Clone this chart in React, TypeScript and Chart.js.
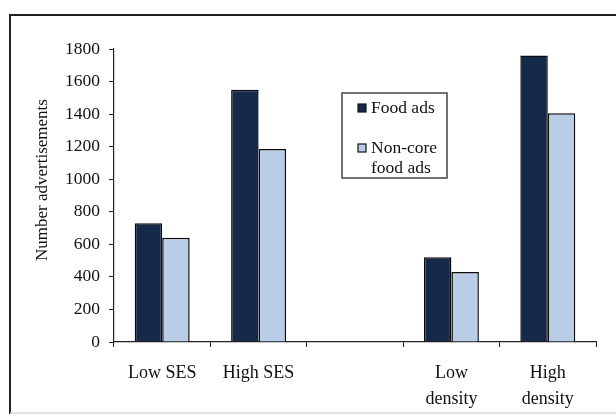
import React, { useEffect, useRef } from "react";
import { Chart, registerables } from "chart.js";

Chart.register(...registerables);

const categories: string[][] = [["Low SES"], ["High SES"], [""], ["Low", "density"], ["High", "density"]];
const foodAds: (number | null)[] = [730, 1550, null, 520, 1760];
const nonCoreFoodAds: (number | null)[] = [640, 1185, null, 430, 1405];
const seriesNames = ["Food ads", "Non-core food ads"];
const legendLines: string[][] = [["Food ads"], ["Non-core", "food ads"]];
const yTicks = [0, 200, 400, 600, 800, 1000, 1200, 1400, 1600, 1800];
const yTitle = "Number advertisements";

const FONT = '"Liberation Serif", "Times New Roman", serif';
const DARK = "#15294b";
const LIGHT = "#b9cde7";

const framePlugin = {
  id: "frame",
  beforeDraw(chart: any) {
    const ctx = chart.ctx;
    ctx.save();
    ctx.fillStyle = "#ffffff";
    ctx.fillRect(0, 0, chart.width, chart.height);
    ctx.strokeStyle = "#222";
    ctx.lineWidth = 2;
    ctx.beginPath();
    ctx.moveTo(10, 414);
    ctx.lineTo(10, 15);
    ctx.lineTo(chart.width, 15);
    ctx.stroke();
    ctx.strokeStyle = "#d8d8d8";
    ctx.lineWidth = 1.5;
    ctx.beginPath();
    ctx.moveTo(10, 413);
    ctx.lineTo(chart.width, 413);
    ctx.stroke();
    ctx.restore();
  },
  afterDraw(chart: any) {
    const ctx = chart.ctx;
    const area = chart.chartArea;
    ctx.save();
    // y-axis title
    ctx.translate(43, 180);
    ctx.rotate(-Math.PI / 2);
    ctx.fillStyle = "#111";
    ctx.font = `17px ${FONT}`;
    ctx.textAlign = "center";
    ctx.textBaseline = "middle";
    ctx.fillText(yTitle, 0, 0);
    ctx.restore();

    // legend box
    ctx.save();
    const lx = area.left + 228;
    const ly = 93;
    const lw = 105;
    const lh = 85;
    ctx.strokeStyle = "#444";
    ctx.lineWidth = 1.5;
    ctx.strokeRect(lx, ly, lw, lh);
    ctx.font = `17.5px ${FONT}`;
    ctx.textBaseline = "middle";
    ctx.textAlign = "left";
    const rowY = [108, 148];
    chart.data.datasets.forEach((ds: any, i: number) => {
      const y = rowY[i];
      ctx.fillStyle = ds.backgroundColor;
      ctx.fillRect(lx + 16, y - 4, 8, 8);
      ctx.strokeStyle = "#111";
      ctx.lineWidth = 1.2;
      ctx.strokeRect(lx + 16, y - 4, 8, 8);
      ctx.fillStyle = "#111";
      legendLines[i].forEach((t, j) => ctx.fillText(t, lx + 29, y + j * 20));
    });
    ctx.restore();
  },
};

export default function App() {
  const ref = useRef<HTMLCanvasElement | null>(null);
  useEffect(() => {
    if (!ref.current) return;
    const chart = new Chart(ref.current, {
      type: "bar",
      data: {
        labels: categories,
        datasets: [
          {
            label: seriesNames[0],
            data: foodAds,
            backgroundColor: DARK,
            borderColor: "#0a0a0a",
            borderWidth: 1.5,
            categoryPercentage: 0.57,
            barPercentage: 1,
          },
          {
            label: seriesNames[1],
            data: nonCoreFoodAds,
            backgroundColor: LIGHT,
            borderColor: "#0a0a0a",
            borderWidth: 1.5,
            categoryPercentage: 0.57,
            barPercentage: 1,
          },
        ],
      },
      options: {
        responsive: true,
        maintainAspectRatio: false,
        animation: false,
        events: [],
        layout: { padding: { left: 0, right: 20, top: 49, bottom: 0 } },
        plugins: { legend: { display: false }, tooltip: { enabled: false } },
        scales: {
          x: {
            grid: {
              display: true,
              drawOnChartArea: false,
              drawTicks: true,
              tickLength: 5,
              color: "#222",
              offset: true,
            },
            border: { display: true, color: "#222", width: 1.2 },
            ticks: {
              color: "#111",
              font: { family: FONT, size: 18, lineHeight: 1.4 },
              padding: 14,
              maxRotation: 0,
              autoSkip: false,
            },
            afterFit: (s: any) => {
              s.height = 77;
            },
          },
          y: {
            min: 0,
            max: 1800,
            afterBuildTicks: (s: any) => {
              s.ticks = yTicks.map((v) => ({ value: v }));
            },
            grid: {
              display: true,
              drawOnChartArea: false,
              drawTicks: true,
              tickLength: 5,
              color: "#222",
            },
            border: { display: true, color: "#222", width: 1.2 },
            ticks: {
              color: "#111",
              font: { family: FONT, size: 17.5 },
              padding: 9,
              callback: (v: any) => String(v),
            },
            afterFit: (s: any) => {
              s.width = 114;
            },
          },
        },
      },
      plugins: [framePlugin],
    });
    return () => chart.destroy();
  }, []);
  return (
    <div style={{ position: "absolute", left: 0, top: 0, width: 616, height: 419, background: "#fff" }}>
      <canvas ref={ref} />
    </div>
  );
}
